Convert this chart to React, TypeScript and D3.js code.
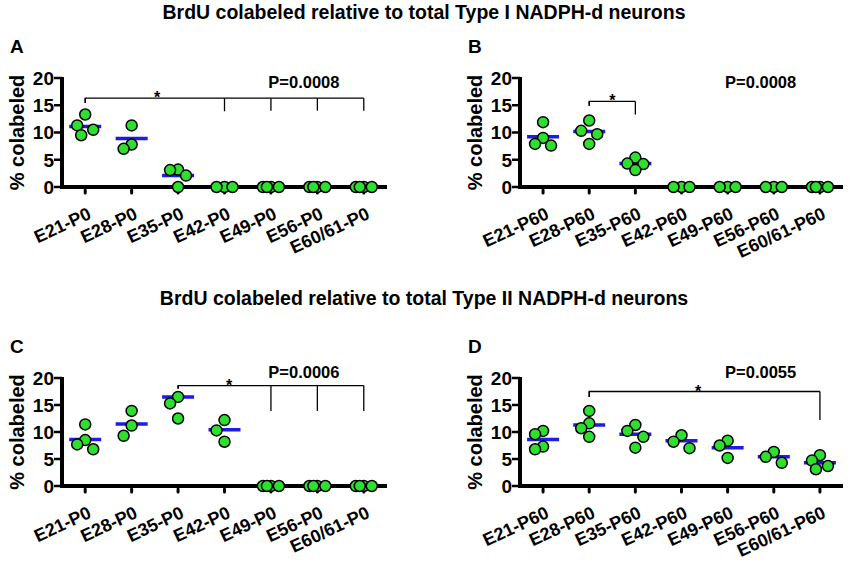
import React from 'react';
import * as d3 from 'd3';

const catsP0 = ['E21-P0', 'E28-P0', 'E35-P0', 'E42-P0', 'E49-P0', 'E56-P0', 'E60/61-P0'];
const catsP60 = ['E21-P60', 'E28-P60', 'E35-P60', 'E42-P60', 'E49-P60', 'E56-P60', 'E60/61-P60'];
const yTicks = [0, 5, 10, 15, 20];

// panel A: Type I, P0
const valuesA = [[13.3, 11.3, 10.5, 9.5], [11.3, 7.8, 7.0], [3.2, 3.1, 2.1, 0], [0, 0, 0], [0, 0, 0, 0], [0, 0, 0, 0], [0, 0, 0, 0]];
const meansA = [11.1, 8.9, 2.1, 0, 0, 0, 0];
const bracketLevelA = 16.3;
const bracketLegsA: [string, number][] = [['E21-P0', 15.4], ['E42-P0', 13.9], ['E49-P0', 14.0], ['E56-P0', 14.0], ['E60/61-P0', 14.0]];
const starA = 1.55;
const pA = 'P=0.0008';

// panel B: Type I, P60
const valuesB = [[11.9, 9.0, 7.9, 7.6], [12.2, 10.3, 9.7, 7.9], [5.4, 4.3, 4.2, 3.1], [0, 0, 0], [0, 0, 0], [0, 0, 0], [0, 0, 0, 0]];
const meansB = [9.2, 10.2, 4.3, 0, 0, 0, 0];
const bracketLevelB = 15.7;
const bracketLegsB: [string, number][] = [['E28-P60', 14.9], ['E35-P60', 13.3]];
const starB = 1.5;
const pB = 'P=0.0008';

// panel C: Type II, P0
const valuesC = [[11.4, 8.5, 7.7, 6.8], [13.9, 11.2, 9.3], [16.5, 15.3, 12.5], [12.2, 10.3, 8.2], [0, 0, 0, 0], [0, 0, 0, 0], [0, 0, 0, 0]];
const meansC = [8.6, 11.5, 16.5, 10.4, 0, 0, 0];
const bracketLevelC = 18.6;
const bracketLegsC: [string, number][] = [['E35-P0', 18.0], ['E49-P0', 13.9], ['E56-P0', 13.9], ['E60/61-P0', 13.9]];
const starC = 3.1;
const pC = 'P=0.0006';

// panel D: Type II, P60
const valuesD = [[10.2, 9.6, 7.3, 6.8], [13.9, 11.6, 10.7, 9.1], [11.3, 10.2, 9.1, 7.1], [9.4, 8.2, 7.0], [8.4, 7.5, 5.2], [6.3, 5.4, 4.3], [5.7, 4.7, 3.7, 3.1]];
const meansD = [8.6, 11.3, 9.6, 8.4, 7.1, 5.4, 4.3];
const bracketLevelD = 17.5;
const bracketLegsD: [string, number][] = [['E28-P60', 16.5], ['E60/61-P60', 12.2]];
const starD = 3.36;
const pD = 'P=0.0055';

const titleI = 'BrdU colabeled relative to total Type I NADPH-d neurons';
const titleII = 'BrdU colabeled relative to total Type II NADPH-d neurons';

const FONT = '"Liberation Sans", Arial, sans-serif';
const R = 5.5;

// simple beeswarm: spread points sideways when they would collide
function swarm(vals: number[], y: (v: number) => number) {
  const step = 8;
  const minD = 11.5;
  const cands = [0, -step, step, -step / 2, step / 2];
  const placed: { v: number; dx: number; cy: number }[] = [];
  [...vals].sort((a, b) => b - a).forEach(v => {
    const cy = y(v);
    const score = (dx: number) =>
      placed.length ? d3.min(placed, p => Math.hypot(p.dx - dx, p.cy - cy))! : Infinity;
    let dx = cands.slice(0, 3).find(c => score(c) >= minD);
    if (dx === undefined) {
      dx = cands.reduce((best, c) => (score(c) + (c === 0 ? 0.5 : 0) > score(best) + (best === 0 ? 0.5 : 0) ? c : best), cands[0]);
    }
    placed.push({ v, dx, cy });
  });
  return placed;
}

interface PanelProps {
  letter: string;
  cats: string[];
  values: number[][];
  means: number[];
  bracketLevel: number;
  bracketLegs: [string, number][];
  star: number;
  pLabel: string;
  pLevel: number;
  axisX: number;
  axisEnd: number;
  y0: number;
  y20: number;
}

const Panel: React.FC<PanelProps> = ({ letter, cats, values, means, bracketLevel, bracketLegs, star, pLabel, pLevel, axisX, axisEnd, y0, y20 }) => {
  const x = d3.scalePoint<string>().domain(cats).range([axisX, axisEnd]).padding(0.5);
  const y = d3.scaleLinear().domain([0, 20]).range([y0, y20]);
  const legXs = bracketLegs.map(l => x(l[0])!);
  const bx0 = d3.min(legXs)!;
  const bx1 = d3.max(legXs)!;
  const by = y(bracketLevel);
  const starX = x(cats[0])! + star * x.step();

  return (
    <g fontFamily={FONT} fontWeight="bold">
      <text x={axisX - 52} y={y20 - 25} fontSize={19}>{letter}</text>
      <text
        transform={`translate(${axisX - 38},${(y0 + y20) / 2}) rotate(-90)`}
        textAnchor="middle"
        fontSize={20}
      >% colabeled</text>

      {/* y axis */}
      {yTicks.map(t => (
        <g key={t}>
          <line x1={axisX - 8} x2={axisX} y1={y(t)} y2={y(t)} stroke="#000" strokeWidth={2.5} />
          <text x={axisX - 8} y={y(t)} dy="0.36em" textAnchor="end" fontSize={19}>{t}</text>
        </g>
      ))}
      <line x1={axisX} x2={axisX} y1={y0 + 2} y2={y20 - 1} stroke="#000" strokeWidth={4} />

      {/* x axis */}
      {cats.map(c => (
        <g key={c}>
          <line x1={x(c)} x2={x(c)} y1={y0 + 3} y2={y0 + 6} stroke="#000" strokeWidth={3} strokeLinecap="round" />
          <text
            transform={`translate(${x(c)! + 7},${y0 + 31}) rotate(-25)`}
            textAnchor="end"
            fontSize={18}
          >{c}</text>
        </g>
      ))}

      {/* bracket */}
      <path
        d={`M${bx0},${y(bracketLegs.find(l => x(l[0]) === bx0)![1])}V${by}H${bx1}`}
        fill="none" stroke="#000" strokeWidth={1.3}
      />
      {bracketLegs.map(l => (
        <line key={l[0]} x1={x(l[0])} x2={x(l[0])} y1={by} y2={y(l[1])} stroke="#000" strokeWidth={1.3} />
      ))}
      <text x={starX} y={by + 5} textAnchor="middle" fontSize={16}>*</text>
      <text x={x(cats[4])! + 33} y={y(pLevel)} textAnchor="middle" fontSize={16.5}>{pLabel}</text>

      {/* means */}
      {means.map((m, i) => (
        <line key={i} x1={x(cats[i])! - 16} x2={x(cats[i])! + 16} y1={y(m)} y2={y(m)} stroke="#1c1ce6" strokeWidth={3.5} />
      ))}
      <line x1={axisX} x2={axisEnd} y1={y0} y2={y0} stroke="#000" strokeWidth={4} />

      {/* points */}
      {values.map((vals, i) =>
        swarm(vals, y).map((p, j) => (
          <circle key={`${i}-${j}`} cx={x(cats[i])! + p.dx} cy={p.cy} r={R} fill="#2ee02e" stroke="#000" strokeWidth={1.5} />
        ))
      )}
    </g>
  );
};

const App: React.FC = () => (
  <svg width={850} height={563} style={{ position: 'absolute', left: 0, top: 0, background: '#fff' }}>
    <rect width={850} height={563} fill="#fff" />
    <text x={424} y={19} textAnchor="middle" fontFamily={FONT} fontWeight="bold" fontSize={19.5}>{titleI}</text>
    <text x={424} y={305} textAnchor="middle" fontFamily={FONT} fontWeight="bold" fontSize={19.5}>{titleII}</text>
    <Panel letter="A" cats={catsP0} values={valuesA} means={meansA} bracketLevel={bracketLevelA} bracketLegs={bracketLegsA} star={starA} pLabel={pA} pLevel={18.2} axisX={62} axisEnd={387} y0={187} y20={78} />
    <Panel letter="B" cats={catsP60} values={valuesB} means={meansB} bracketLevel={bracketLevelB} bracketLegs={bracketLegsB} star={starB} pLabel={pB} pLevel={18.2} axisX={520} axisEnd={843} y0={187} y20={78} />
    <Panel letter="C" cats={catsP0} values={valuesC} means={meansC} bracketLevel={bracketLevelC} bracketLegs={bracketLegsC} star={starC} pLabel={pC} pLevel={20} axisX={62} axisEnd={387} y0={486} y20={378} />
    <Panel letter="D" cats={catsP60} values={valuesD} means={meansD} bracketLevel={bracketLevelD} bracketLegs={bracketLegsD} star={starD} pLabel={pD} pLevel={20} axisX={520} axisEnd={843} y0={486} y20={378} />
  </svg>
);

export default App;
